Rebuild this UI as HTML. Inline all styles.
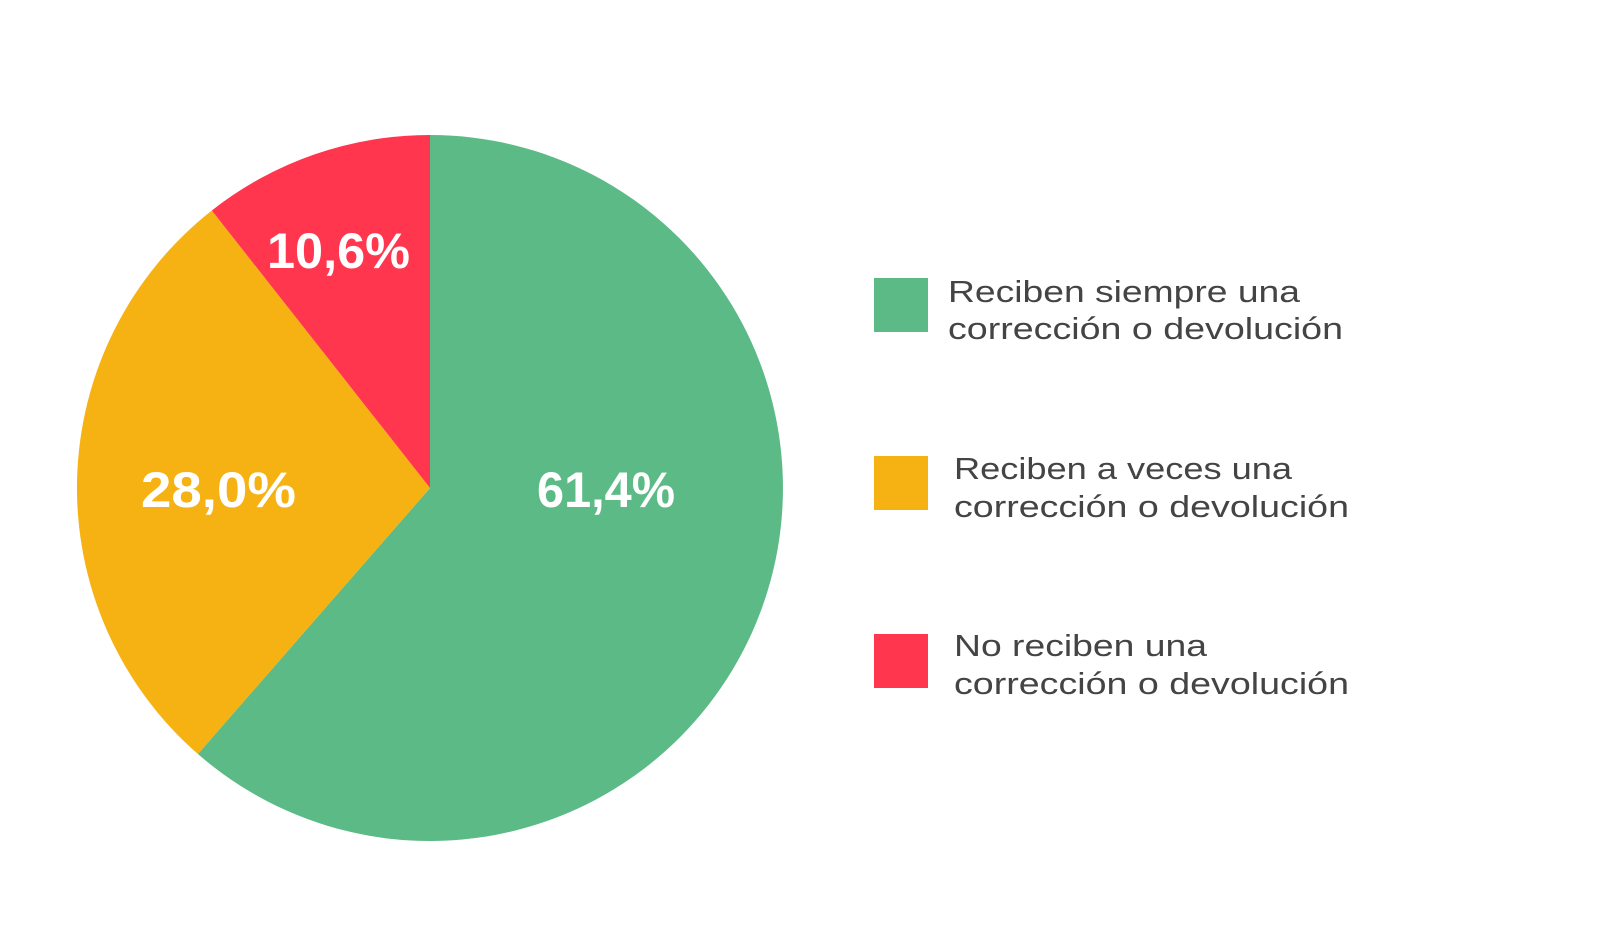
<!DOCTYPE html>
<html><head><style>body{margin:0;background:#fff}svg{display:block}</style></head>
<body>
<svg width="1600" height="941" viewBox="0 0 1600 941" xmlns="http://www.w3.org/2000/svg" font-family="Liberation Sans, sans-serif">
<rect width="1600" height="941" fill="#fff"/>
<path d="M430,488 L430,135 A353,353 0 1 1 197.9,754 Z" fill="#5cba86"/>
<path d="M430,488 L197.9,754 A353,353 0 0 1 211.8,210.5 Z" fill="#f5b212"/>
<path d="M430,488 L211.8,210.5 A353,353 0 0 1 430,135 Z" fill="#ff364e"/>
<g fill="#fff" font-weight="bold">
<text x="267" y="268" font-size="50" textLength="143" lengthAdjust="spacingAndGlyphs">10,6%</text>
<text x="141" y="507" font-size="50" textLength="155" lengthAdjust="spacingAndGlyphs">28,0%</text>
<text x="537" y="507" font-size="50" textLength="138" lengthAdjust="spacingAndGlyphs">61,4%</text>
</g>
<rect x="874" y="278" width="54" height="54" fill="#5cba86"/>
<rect x="874" y="456" width="54" height="54" fill="#f5b212"/>
<rect x="874" y="634" width="54" height="54" fill="#ff364e"/>
<g fill="#444" font-size="31">
<text x="948" y="302" textLength="352" lengthAdjust="spacingAndGlyphs">Reciben siempre una</text>
<text x="948" y="339" textLength="395" lengthAdjust="spacingAndGlyphs">corrección o devolución</text>
<text x="954" y="479" textLength="338" lengthAdjust="spacingAndGlyphs">Reciben a veces una</text>
<text x="954" y="517" textLength="395" lengthAdjust="spacingAndGlyphs">corrección o devolución</text>
<text x="954" y="656" textLength="253" lengthAdjust="spacingAndGlyphs">No reciben una</text>
<text x="954" y="694" textLength="395" lengthAdjust="spacingAndGlyphs">corrección o devolución</text>
</g>
</svg>
</body></html>
